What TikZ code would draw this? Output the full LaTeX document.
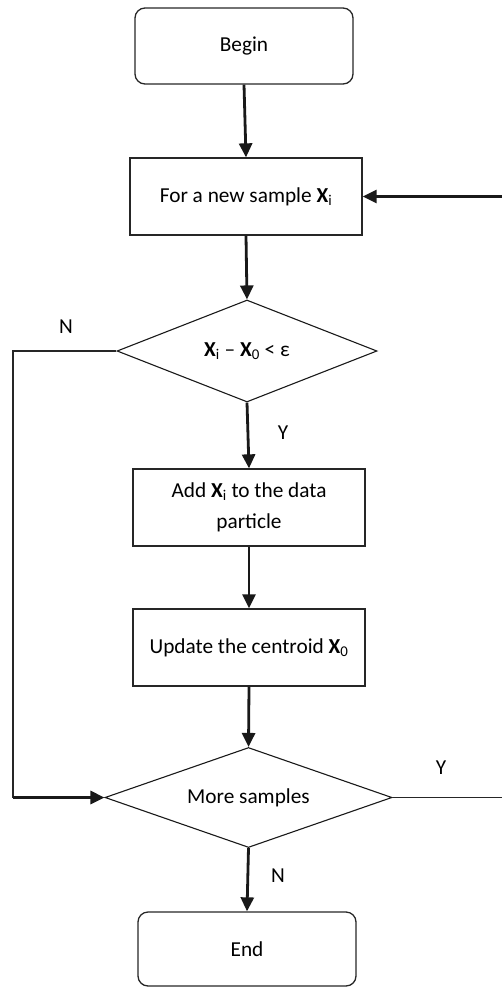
\documentclass[tikz,border=0pt]{standalone}
\usepackage{fontspec}
\setmainfont{Carlito}
\usetikzlibrary{shapes.geometric,arrows.meta}
\begin{document}
\begin{tikzpicture}[x=1pt,y=-1pt,
  every node/.style={font=\fontsize{21.3}{31}\selectfont},
  term/.style={draw=black!85,line width=1.3pt,rounded corners=10pt,inner sep=0pt},
  proc/.style={draw=black!85,line width=1.3pt,inner sep=0pt},
  dec/.style={draw=black!90,line width=1.1pt,diamond,shape aspect=2.55,inner sep=0pt},
  flow/.style={line width=2.8pt,black!90,-{Triangle[length=14pt,width=13pt]}},
  thin/.style={line width=1.3pt,black!85},
  lbl/.style={inner sep=0pt}]
\useasboundingbox (0,0) rectangle (502,988);
\newcommand{\bX}{\textbf{X}}
\node[term,minimum width=218pt,minimum height=76pt] (begin) at (244,46) {Begin};
\node[proc,minimum width=232pt,minimum height=77pt] (new) at (246,196.5) {For a new sample \bX\textsubscript{i}};
\node[dec,minimum width=260pt,minimum height=102pt] (d1) at (247,351) {\bX\textsubscript{i} – \bX\textsubscript{0} < ε};
\node[proc,minimum width=232pt,minimum height=77pt,align=center] (add) at (249,507.5) {Add \bX\textsubscript{i} to the data\\particle};
\node[proc,minimum width=232pt,minimum height=77pt] (upd) at (249,647.5) {Update the centroid \bX\textsubscript{0}};
\node[dec,minimum width=287pt,minimum height=100pt] (d2) at (248.5,797.5) {More samples};
\node[term,minimum width=218pt,minimum height=74pt] (end) at (247,949) {End};

\coordinate (rin) at (502,196.5);
\coordinate (nl1) at (13,351);
\coordinate (nl2) at (13,797.5);
\coordinate (yout) at (502,797.5);

\draw[flow] (begin.south) -- (new.north);
\draw[flow] (rin) -- (new.east);
\draw[flow] (new.south) -- (d1.north);
\draw[flow] (d1.south) -- (add.north);
\draw[flow] (add.south) -- (upd.north);
\draw[flow] (upd.south) -- (d2.north);
\draw[flow] (d2.south) -- (end.north);
\draw[thin] (d1.west) -- (nl1) -- (nl2);
\draw[flow] (nl2) -- (d2.west);
\draw[thin] (d2.east) -- (yout);

\node[lbl] (n1) at (66,327) {N};
\node[lbl] (y1) at (283,433) {Y};
\node[lbl] (y2) at (441,768) {Y};
\node[lbl] (n2) at (278,876) {N};
\end{tikzpicture}
\end{document}
